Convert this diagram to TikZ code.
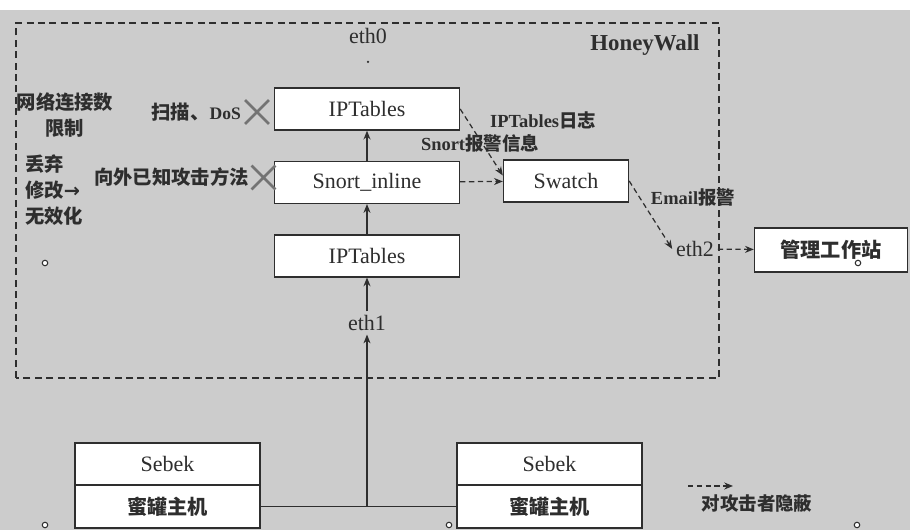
\documentclass[tikz,border=0pt]{standalone}
\usepackage{fontspec}
\setmainfont{Liberation Serif}
\newfontfamily\cjk{Noto Sans CJK SC}
\newfontfamily\symb{DejaVu Sans}
\usetikzlibrary{positioning,arrows.meta,shapes.misc}
\definecolor{paper}{gray}{0.8}
\definecolor{ink}{gray}{0.18}
\definecolor{crossgray}{gray}{0.45}

\begin{document}
\begin{tikzpicture}[
	box/.style={shape=rectangle, draw=ink, line width=0.8pt, fill=white, minimum width=3.7cm, minimum height=0.84cm, text=ink, font=\fontsize{12.5}{14}\selectfont},
	cjkbox/.style={box, font=\cjk\bfseries\fontsize{11.5}{13}\selectfont},
	lbl/.style={text=ink, inner sep=2pt, font=\fontsize{12.5}{14}\selectfont},
	cjklbl/.style={text=ink, inner sep=1pt, font=\cjk\bfseries\fontsize{11}{15}\selectfont},
	note/.style={text=ink, inner sep=1pt, font=\bfseries\fontsize{10.5}{12}\selectfont},
	block/.style={shape=cross out, draw=crossgray, line width=1.6pt, minimum size=0.42cm, inner sep=0pt},
	pin/.style={shape=circle, draw=ink, fill=white, line width=0.6pt, inner sep=0pt, minimum size=0.11cm},
	flow/.style={draw=ink, line width=0.7pt, -{Stealth[length=5pt, width=4pt]}},
	dflow/.style={flow, dash pattern=on 3pt off 2pt}]
	% Paths, nodes and wires:
	\useasboundingbox (0, 0) rectangle (18.2, 10.6);
	\fill[paper] (0, 0) rectangle (18.2, 10.4);
	\draw[ink, line width=0.8pt, dash pattern=on 4pt off 2.5pt] (0.32, 3.04) rectangle (14.38, 10.14);
	\node[lbl, font=\bfseries\fontsize{13}{15}\selectfont] (honeywall) at (12.9, 9.7) {HoneyWall};
	\node[lbl] (eth0) at (7.36, 9.88) {eth0};
	\fill[ink] (7.36, 9.36) circle (0.025);

	\node[box] (iptup) at (7.34, 8.42) {IPTables};
	\node[box, below=0.6cm of iptup] (snort) {Snort\_inline};
	\node[box, below=0.6cm of snort] (iptlow) {IPTables};
	\node[box, minimum width=2.5cm] (swatch) at (11.32, 6.98) {Swatch};
	\node[lbl] (eth1) at (7.34, 4.14) {eth1};
	\node[lbl] (eth2) at (13.9, 5.62) {eth2};
	\node[cjkbox, minimum width=3.06cm, minimum height=0.88cm] (station) at (16.62, 5.6) {管理工作站};

	\node[box] (sebekL) at (3.35, 1.32) {Sebek};
	\node[cjkbox, minimum height=0.86cm, below=-0.8pt of sebekL] (hostL) {蜜罐主机};
	\node[box] (sebekR) at (10.99, 1.32) {Sebek};
	\node[cjkbox, minimum height=0.86cm, below=-0.8pt of sebekR] (hostR) {蜜罐主机};

	\draw[flow] (snort) -- (iptup);
	\draw[flow] (iptlow) -- (snort);
	\draw[flow] (eth1) -- (iptlow);
	\draw[ink, line width=0.7pt] (hostL.east) -- (hostR.west);
	\draw[flow] (hostL.east -| eth1) -- (eth1);
	\draw[dflow] (snort) -- (swatch);
	\draw[dflow] (iptup.east) -- (swatch.175);
	\draw[dflow] (swatch.east) -- (eth2.west);
	\draw[dflow] (eth2) -- (station);

	\node[note] (iptlog) at (9.76, 8.2) [anchor=west] {IPTables\cjk 日志};
	\node[note] (snortlog) at (9.6, 7.74) {Snort\cjk 报警信息};
	\node[note] (email) at (13.86, 6.64) {Email\cjk 报警};

	\node[block] (xscan) at (5.14, 8.36) {};
	\node[cjklbl, anchor=east] (scan) at (4.86, 8.36) {扫描、{\rmfamily\fontsize{10}{12}\selectfont DoS}};
	\node[block] (xout) at (5.27, 7.05) {};
	\node[cjklbl, anchor=east] (outward) at (5.02, 7.05) {向外已知攻击方法};
	\node[cjklbl, align=center] (connlimit) at (1.3, 8.3) {网络连接数\\限制};
	\node[cjklbl, align=left, anchor=west] (drop) at (0.46, 6.8) {丢弃\\修改{\symb\bfseries →}\\无效化};

	\coordinate (legA) at (13.76, 0.88);
	\coordinate (legB) at (14.66, 0.88);
	\draw[dflow] (legA) -- (legB);
	\node[cjklbl, font=\cjk\bfseries\fontsize{10.5}{12}\selectfont] (hide) at (15.14, 0.54) {对攻击者隐蔽};

	\node[pin] (p1) at (0.9, 5.34) {};
	\node[pin] (p2) at (17.16, 5.34) {};
	\node[pin] (p3) at (0.9, 0.1) {};
	\node[pin] (p4) at (8.98, 0.1) {};
	\node[pin] (p5) at (17.14, 0.1) {};
\end{tikzpicture}
\end{document}
